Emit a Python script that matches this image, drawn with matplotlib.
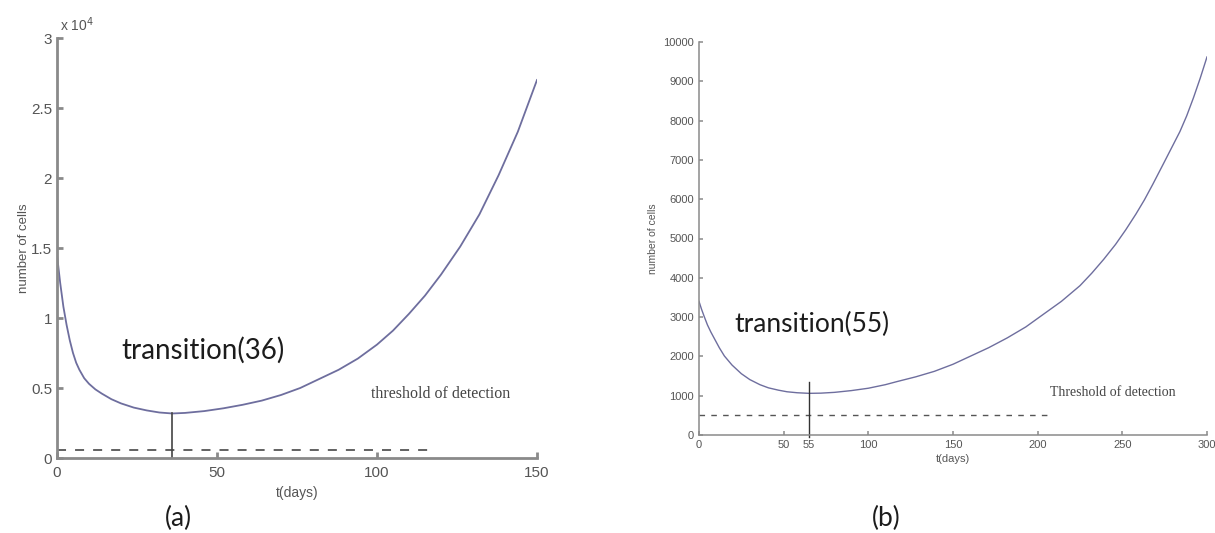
import matplotlib
matplotlib.use("Agg")
import matplotlib.pyplot as plt

# ---- data ----
# (a) cell count, units of 10^4
t_a = [0, 1, 2, 3, 4, 5, 6, 7, 8.5, 10, 12, 14, 17, 20, 24, 28, 32, 36, 40,
       46, 52, 58, 64, 70, 76, 82, 88, 94, 100, 105, 110, 115, 120, 126, 132,
       138, 144, 150]
cells_a = [1.45, 1.25, 1.08, 0.95, 0.84, 0.75, 0.68, 0.63, 0.57, 0.53, 0.49,
           0.46, 0.42, 0.39, 0.36, 0.34, 0.325, 0.318, 0.322, 0.335, 0.355,
           0.38, 0.41, 0.45, 0.50, 0.565, 0.63, 0.71, 0.81, 0.91, 1.03, 1.16,
           1.31, 1.51, 1.74, 2.02, 2.33, 2.7]
threshold_a = 0.055
threshold_a_end = 116
transition_a = 36
trans_top_a = 0.318

# (b) cell count
t_b = [0, 1.5, 3.2, 5, 7, 9, 12, 15, 19.5, 25, 30, 36, 41, 47, 52, 58, 65, 72,
       80, 90, 100, 110, 117, 128, 139, 150, 160, 171, 182, 193, 203, 214, 225,
       232, 239, 246, 252, 258, 263, 268, 274, 279, 284, 288, 292, 296, 300]
cells_b = [3400, 3200, 3000, 2800, 2620, 2460, 2220, 2010, 1780, 1560, 1410,
           1280, 1200, 1140, 1100, 1075, 1060, 1065, 1085, 1130, 1190, 1280,
           1360, 1480, 1620, 1800, 2000, 2220, 2470, 2750, 3060, 3400, 3800,
           4120, 4470, 4850, 5220, 5620, 5980, 6380, 6880, 7300, 7720, 8120,
           8580, 9080, 9620]
threshold_b = 520
threshold_b_end = 206
transition_b_label = '55'
transition_b_pos = 65  # where the marker is drawn on the axis
trans_top_b = 1350

xticks_a = [0, 50, 100, 150]
yticks_a = [0, 0.5, 1, 1.5, 2, 2.5, 3]
ytick_labels_a = ['0', '0.5', '1', '1.5', '2', '2.5', '3']
xticks_b = [0, 50, 100, 150, 200, 250, 300]
yticks_b = list(range(0, 10001, 1000))

W, H = 1215, 533
CURVE = '#6e6e9e'
AXC = '#8a8a8a'
TXT = '#555555'
sans = ['Liberation Sans', 'DejaVu Sans']
big = ['Lato', 'DejaVu Sans']

fig = plt.figure(figsize=(W / 100, H / 100), dpi=100)


def px(x, y):
    return x / W, 1 - y / H


def style_axes(ax, lw, size):
    ax.spines['top'].set_visible(False)
    ax.spines['right'].set_visible(False)
    for s in ('left', 'bottom'):
        ax.spines[s].set_color(AXC)
        ax.spines[s].set_linewidth(lw)
    ax.tick_params(direction='in', length=4, width=lw, colors=AXC,
                   labelcolor=TXT, labelsize=size)
    for lab in ax.get_xticklabels() + ax.get_yticklabels():
        lab.set_family(sans)


# ---- panel (a) ----
ax1 = fig.add_axes([57 / W, 1 - 458 / H, 480 / W, 420 / H])
ax1.plot(t_a, cells_a, color=CURVE, lw=1.3)
ax1.plot([0, threshold_a_end], [threshold_a, threshold_a], color='#555555',
         lw=1.3, dashes=(5, 5))
ax1.plot([transition_a, transition_a], [0, trans_top_a], color='#444444', lw=1.2)
ax1.set_xlim(0, 150)
ax1.set_ylim(0, 3)
ax1.set_xticks(xticks_a)
ax1.set_yticks(yticks_a)
ax1.set_yticklabels(ytick_labels_a)
style_axes(ax1, 2.0, 11)
ax1.tick_params(axis='x', pad=6)
ax1.set_xlabel('t(days)', family=sans, color=TXT, fontsize=10, labelpad=4)
ax1.set_ylabel('number of cells', family=sans, color=TXT, fontsize=9.5,
               labelpad=1)
fig.text(*px(60, 25), 'x 10$^4$', family=sans, color=TXT, fontsize=10,
         va='center', ha='left')
ax1.text(20, 0.77, 'transition(36)', family=big, fontsize=20, color='#1c1c1c',
         va='center', ha='left')
ax1.text(98, 0.455, 'threshold of detection', family='Liberation Serif',
         fontsize=11.5, color='#444444', va='center', ha='left')
fig.text(*px(178, 518), '(a)', family=big, fontsize=19, color='#1c1c1c',
         ha='center', va='center')

# ---- panel (b) ----
ax2 = fig.add_axes([699 / W, 1 - 435 / H, 508 / W, 393 / H])
ax2.plot(t_b, cells_b, color=CURVE, lw=1.0)
ax2.plot([0, threshold_b_end], [threshold_b, threshold_b], color='#555555',
         lw=1.0, dashes=(4, 4.5))
ax2.plot([transition_b_pos, transition_b_pos], [-60, trans_top_b],
         color='#333333', lw=1.0, clip_on=False)
ax2.set_xlim(0, 300)
ax2.set_ylim(0, 10000)
ax2.set_xticks(xticks_b)
ax2.set_yticks(yticks_b)
style_axes(ax2, 1.1, 8)
ax2.tick_params(length=3)
ax2.text(transition_b_pos, -120, transition_b_label, family=sans, fontsize=8,
         color=TXT, ha='center', va='top')
ax2.set_xlabel('t(days)', family=sans, color=TXT, fontsize=8, labelpad=3)
ax2.set_ylabel('number of cells', family=sans, color=TXT, fontsize=7.5,
               labelpad=4)
ax2.text(21, 2800, 'transition(55)', family=big, fontsize=19, color='#1c1c1c',
         va='center', ha='left')
ax2.text(207, 1090, 'Threshold of detection', family='Liberation Serif',
         fontsize=10, color='#444444', va='center', ha='left')
fig.text(*px(886, 518), '(b)', family=big, fontsize=19, color='#1c1c1c',
         ha='center', va='center')

fig.savefig('out.png', dpi=100, facecolor='white')
